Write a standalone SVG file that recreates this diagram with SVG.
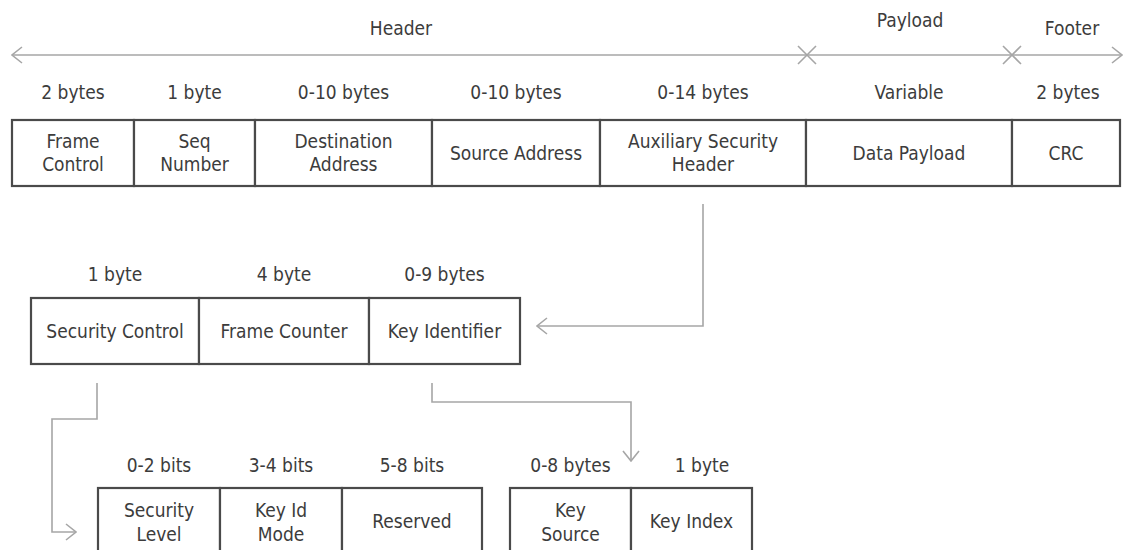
<svg xmlns="http://www.w3.org/2000/svg" width="1125" height="550" viewBox="0 0 1125 550">
<style>
text{font-family:'DejaVu Sans Condensed','DejaVu Sans',sans-serif;font-stretch:condensed;font-size:19px;fill:#3c3c3c;text-anchor:middle}
.cell{fill:#fff;stroke:#4a4a4a;stroke-width:2.2}
.conn{fill:none;stroke:#a6a6a6;stroke-width:1.6}
.arr{marker-end:url(#chev)}
</style>
<defs>
<marker id="chev" viewBox="0 0 12 18" refX="11" refY="9" markerWidth="12" markerHeight="18" markerUnits="userSpaceOnUse" orient="auto-start-reverse">
<path d="M1,1 L11,9 L1,17" fill="none" stroke="#a6a6a6" stroke-width="1.6"/>
</marker>
</defs>
<rect width="1125" height="550" fill="#fff"/>
<g id="connectors">
<path class="conn" d="M12,55 H1122" marker-start="url(#chev)" marker-end="url(#chev)"/>
<path class="conn" d="M798,46 L816,64 M816,46 L798,64 M1003,46 L1021,64 M1021,46 L1003,64"/>
<path class="conn arr" d="M703,204 V326 H537"/>
<path class="conn arr" d="M97,383 V419 H52 V532 H76"/>
<path class="conn arr" d="M432,383 V402 H631 V461"/>
</g>
<g id="section-labels">
<text x="401" y="35">Header</text>
<text x="910" y="27">Payload</text>
<text x="1072" y="35">Footer</text>
</g>
<g id="frame-control"><rect class="cell" x="12" y="120" width="122" height="66"/><text x="73" y="99">2 bytes</text><text x="73" y="148">Frame</text><text x="73" y="171">Control</text></g>
<g id="seq-number"><rect class="cell" x="134" y="120" width="121" height="66"/><text x="194.5" y="99">1 byte</text><text x="194.5" y="148">Seq</text><text x="194.5" y="171">Number</text></g>
<g id="destination-address"><rect class="cell" x="255" y="120" width="177" height="66"/><text x="343.5" y="99">0-10 bytes</text><text x="343.5" y="148">Destination</text><text x="343.5" y="171">Address</text></g>
<g id="source-address"><rect class="cell" x="432" y="120" width="168" height="66"/><text x="516" y="99">0-10 bytes</text><text x="516" y="160">Source Address</text></g>
<g id="aux-security-header"><rect class="cell" x="600" y="120" width="206" height="66"/><text x="703" y="99">0-14 bytes</text><text x="703" y="148">Auxiliary Security</text><text x="703" y="171">Header</text></g>
<g id="data-payload"><rect class="cell" x="806" y="120" width="206" height="66"/><text x="909" y="99">Variable</text><text x="909" y="160">Data Payload</text></g>
<g id="crc"><rect class="cell" x="1012" y="120" width="108" height="66"/><text x="1068" y="99">2 bytes</text><text x="1066" y="160">CRC</text></g>
<g id="security-control"><rect class="cell" x="31" y="298" width="168" height="66"/><text x="115" y="281">1 byte</text><text x="115" y="338">Security Control</text></g>
<g id="frame-counter"><rect class="cell" x="199" y="298" width="170" height="66"/><text x="284" y="281">4 byte</text><text x="284" y="338">Frame Counter</text></g>
<g id="key-identifier"><rect class="cell" x="369" y="298" width="151" height="66"/><text x="444.5" y="281">0-9 bytes</text><text x="444.5" y="338">Key Identifier</text></g>
<g id="security-level"><rect class="cell" x="98" y="488" width="122" height="66"/><text x="159" y="472">0-2 bits</text><text x="159" y="517">Security</text><text x="159" y="541">Level</text></g>
<g id="key-id-mode"><rect class="cell" x="220" y="488" width="122" height="66"/><text x="281" y="472">3-4 bits</text><text x="281" y="517">Key Id</text><text x="281" y="541">Mode</text></g>
<g id="reserved"><rect class="cell" x="342" y="488" width="140" height="66"/><text x="412" y="472">5-8 bits</text><text x="412" y="528">Reserved</text></g>
<g id="key-source"><rect class="cell" x="510" y="488" width="121" height="66"/><text x="570.5" y="472">0-8 bytes</text><text x="570.5" y="517">Key</text><text x="570.5" y="541">Source</text></g>
<g id="key-index"><rect class="cell" x="631" y="488" width="121" height="66"/><text x="702" y="472">1 byte</text><text x="691.5" y="528">Key Index</text></g>
</svg>
